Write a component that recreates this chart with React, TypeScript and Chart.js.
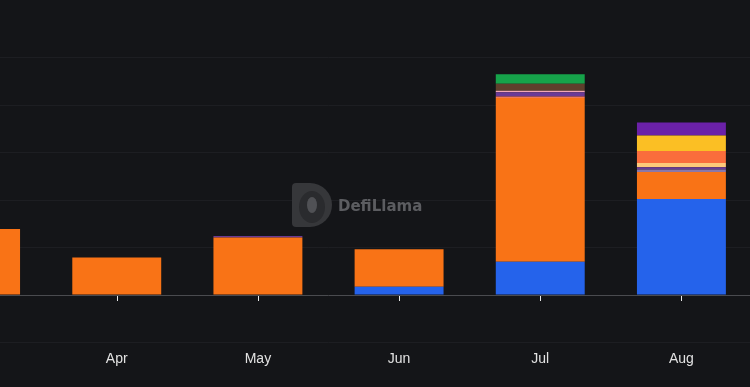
import React, { useEffect, useRef } from "react";
import { Chart, registerables } from "chart.js";

Chart.register(...registerables);

const months = ["Mar", "Apr", "May", "Jun", "Jul", "Aug"];

const blueValues = [0, 0, 0, 0.175, 0.7, 2.02];
const orangeValues = [1.39, 0.79, 1.21, 0.79, 3.45, 0.57];
const salmonValues = [0, 0, 0, 0, 0.03, 0];
const lavenderValues = [0, 0, 0, 0, 0, 0.05];
const purpleValues = [0, 0, 0.03, 0, 0.09, 0.05];
const pinkValues = [0, 0, 0, 0, 0.03, 0];
const brownValues = [0, 0, 0, 0, 0.15, 0];
const peachValues = [0, 0, 0, 0, 0, 0.09];
const coralValues = [0, 0, 0, 0, 0, 0.25];
const greenValues = [0, 0, 0, 0, 0.2, 0];
const yellowValues = [0, 0, 0, 0, 0, 0.33];
const violetValues = [0, 0, 0, 0, 0, 0.27];

const yTicks = [-1, 0, 1, 2, 3, 4, 5];

const series = [
  { label: "Blue", data: blueValues, color: "#2563eb" },
  { label: "Orange", data: orangeValues, color: "#f97316" },
  { label: "Salmon", data: salmonValues, color: "#f0775a" },
  { label: "Lavender", data: lavenderValues, color: "#8a78a8" },
  { label: "Purple", data: purpleValues, color: "#6b3a96" },
  { label: "Pink", data: pinkValues, color: "#f2a7b4" },
  { label: "Brown", data: brownValues, color: "#5e3f2c" },
  { label: "Peach", data: peachValues, color: "#fdc97a" },
  { label: "Coral", data: coralValues, color: "#fa6d3c" },
  { label: "Green", data: greenValues, color: "#16a34a" },
  { label: "Yellow", data: yellowValues, color: "#fbbf24" },
  { label: "Violet", data: violetValues, color: "#6b21a8" },
];

const BG = "#141518";

const tickMarks = {
  id: "tickMarks",
  afterDatasetsDraw(chart: any) {
    const { ctx, scales } = chart;
    const x = scales.x;
    const y = scales.y;
    const y0 = y.getPixelForValue(0);
    ctx.save();
    ctx.strokeStyle = "#e8e8e8";
    ctx.lineWidth = 1;
    months.forEach((_, i) => {
      const px = Math.round(x.getPixelForValue(i)) + 0.5;
      ctx.beginPath();
      ctx.moveTo(px, y0 + 1);
      ctx.lineTo(px, y0 + 6);
      ctx.stroke();
    });
    ctx.restore();
  },
};

const watermark = {
  id: "watermark",
  beforeDatasetsDraw(chart: any) {
    const { ctx, chartArea } = chart;
    const cx = chartArea.left + 387;
    const cy = 183;
    ctx.save();
    ctx.fillStyle = "#36373a";
    ctx.beginPath();
    ctx.moveTo(cx, cy + 4);
    ctx.quadraticCurveTo(cx, cy, cx + 4, cy);
    ctx.lineTo(cx + 18, cy);
    ctx.arc(cx + 18, cy + 22, 22, -Math.PI / 2, Math.PI / 2);
    ctx.lineTo(cx + 4, cy + 44);
    ctx.quadraticCurveTo(cx, cy + 44, cx, cy + 40);
    ctx.closePath();
    ctx.fill();
    ctx.fillStyle = "#2a2b2e";
    ctx.beginPath();
    ctx.ellipse(cx + 20, cy + 24, 13, 16, 0, 0, Math.PI * 2);
    ctx.fill();
    ctx.fillStyle = "#505155";
    ctx.beginPath();
    ctx.ellipse(cx + 20, cy + 22, 5, 8, 0, 0, Math.PI * 2);
    ctx.fill();
    ctx.fillStyle = "#5c5d61";
    ctx.font = "bold 15px 'DejaVu Sans', sans-serif";
    ctx.textBaseline = "middle";
    ctx.fillText("DefiLlama", cx + 46, cy + 24);
    ctx.restore();
  },
};

export default function App() {
  const ref = useRef<HTMLCanvasElement | null>(null);

  useEffect(() => {
    document.body.style.margin = "0";
    document.body.style.background = BG;
    const canvas = ref.current;
    if (!canvas) return;
    const chart = new Chart(canvas, {
      type: "bar",
      data: {
        labels: months,
        datasets: series.map((s) => ({
          label: s.label,
          data: s.data,
          backgroundColor: s.color,
          borderWidth: 0,
          categoryPercentage: 1,
          barPercentage: 0.63,
        })),
      },
      options: {
        animation: false,
        responsive: false,
        maintainAspectRatio: false,
        layout: { padding: { top: 57.5, left: 0, right: 0, bottom: 0 } },
        plugins: {
          legend: { display: false },
          tooltip: { enabled: false },
        },
        scales: {
          x: {
            stacked: true,
            grid: { display: false, drawTicks: false },
            border: { display: false },
            ticks: {
              color: "#e2e2e2",
              font: { family: "'Liberation Sans', Arial, sans-serif", size: 14 },
              padding: 8,
              maxRotation: 0,
            },
            afterFit(scale: any) {
              scale.height = 44.5;
            },
          },
          y: {
            stacked: true,
            min: -1,
            max: 5,
            afterBuildTicks(scale: any) {
              scale.ticks = yTicks.map((v) => ({ value: v }));
            },
            ticks: { display: false },
            border: { display: false },
            grid: {
              drawTicks: false,
              color: (c: any) => (c.tick && c.tick.value === 0 ? "#4a4b4f" : "#1d1e22"),
              lineWidth: 1,
            },
          },
        },
      },
      plugins: [watermark, tickMarks],
    });
    return () => chart.destroy();
  }, []);

  return (
    <div
      style={{
        position: "fixed",
        left: 0,
        top: 0,
        width: 750,
        height: 387,
        overflow: "hidden",
        background: BG,
      }}
    >
      <canvas
        ref={ref}
        width={847}
        height={387}
        style={{ position: "absolute", left: -95, top: 0, width: 847, height: 387 }}
      />
    </div>
  );
}
